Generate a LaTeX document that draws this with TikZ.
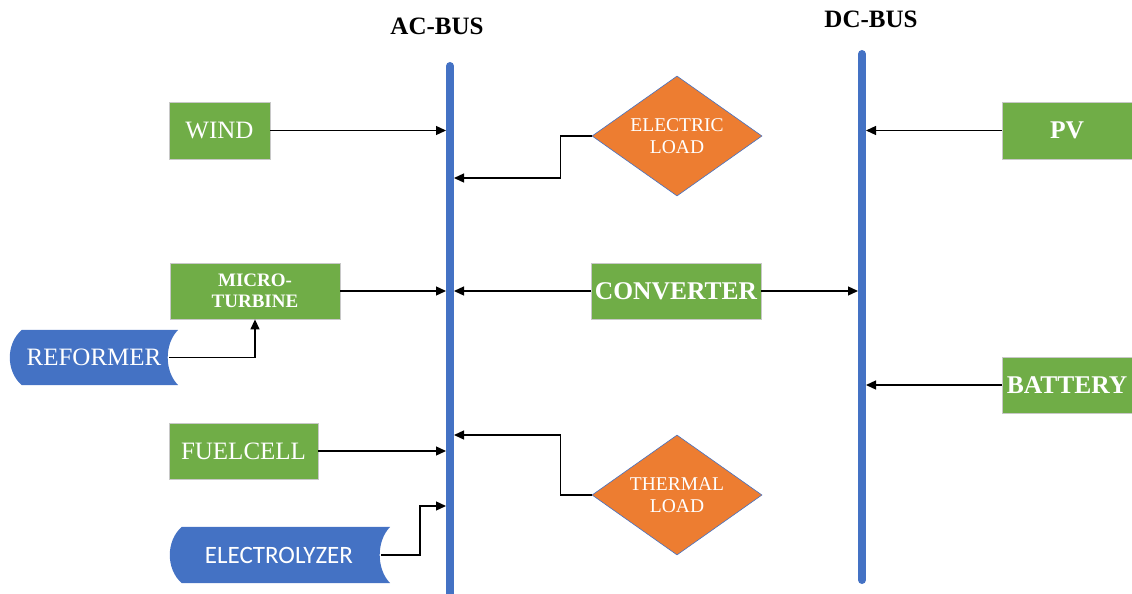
\documentclass[tikz,border=0pt]{standalone}
\usepackage{fontspec}
\setmainfont{Liberation Serif}
\newfontfamily\calib{Carlito}
\usetikzlibrary{arrows.meta,shapes.geometric}
\definecolor{mygreen}{HTML}{70AD47}
\definecolor{myblue}{HTML}{4472C4}
\definecolor{myorange}{HTML}{ED7D31}
\definecolor{myedge}{HTML}{C8C8C8}
\tikzset{
  gbox/.style={fill=mygreen, draw=myedge, line width=0.8pt, text=white, inner sep=0pt},
  dia/.style={diamond, aspect=1.42, fill=myorange, draw=myblue, line width=0.6pt, text=white, inner sep=0pt,
     minimum width=170pt, minimum height=120pt, align=center, font=\fontsize{19.5}{21.5}\selectfont},
  sdtext/.style={text=white, inner sep=0pt},
  arr/.style={line width=1.3pt, -{Triangle[length=10pt,width=9pt]}},
  bus/.style={line width=8pt, myblue, line cap=round},
  ttl/.style={font=\bfseries\fontsize{25}{28}\selectfont},
  f25/.style={font=\fontsize{25}{28}\selectfont},
  b25/.style={font=\bfseries\fontsize{25.5}{28}\selectfont},
}
\begin{document}
\begin{tikzpicture}[x=1pt,y=-1pt]
\useasboundingbox (0,0) rectangle (1132,594);
% buses
\draw[bus] (450,66) -- (450,600);
\draw[bus] (862,54) -- (862,580);
\coordinate (acL) at (446,0);
\coordinate (acR) at (454,0);
\coordinate (dcL) at (858,0);
\coordinate (dcR) at (866,0);
% titles
\node[ttl] (actitle) at (437,26) {AC-BUS};
\node[ttl] (dctitle) at (871,19) {DC-BUS};
% left column
\node[gbox, f25, minimum width=101pt, minimum height=57pt] (wind) at (219.5,130.5) {WIND};
\node[gbox, align=center, font=\bfseries\fontsize{19}{21}\selectfont, minimum width=170pt, minimum height=56pt] (mt) at (255,291) {MICRO-\\TURBINE};
\node[gbox, f25, minimum width=149pt, minimum height=56pt] (fc) at (243.5,451) {FUELCELL};
% reformer (stored data shape)
\node[sdtext, minimum width=168pt, minimum height=55pt] (ref) at (94,357.5) {};
\fill[myblue] ([xshift=12pt]ref.north west) -- (ref.north east)
   .. controls ([xshift=-14pt,yshift=-14pt]ref.north east) and ([xshift=-14pt,yshift=14pt]ref.south east) .. (ref.south east)
   -- ([xshift=12pt]ref.south west)
   .. controls ([xshift=-4pt,yshift=14pt]ref.south west) and ([xshift=-4pt,yshift=-14pt]ref.north west) .. cycle;
\node[sdtext, f25] (reft) at (ref.center) {REFORMER};
% electrolyzer
\node[sdtext, minimum width=220pt, minimum height=56pt] (elz) at (280,555) {};
\fill[myblue] ([xshift=12pt]elz.north west) -- (elz.north east)
   .. controls ([xshift=-14pt,yshift=-14pt]elz.north east) and ([xshift=-14pt,yshift=14pt]elz.south east) .. (elz.south east)
   -- ([xshift=12pt]elz.south west)
   .. controls ([xshift=-4pt,yshift=14pt]elz.south west) and ([xshift=-4pt,yshift=-14pt]elz.north west) .. cycle;
\node[sdtext, font=\calib\fontsize{25}{28}\selectfont] (elzt) at (279,555) {ELECTROLYZER};
% middle
\node[dia] (eload) at (677,136) {ELECTRIC\\LOAD};
\node[gbox, b25, minimum width=170pt, minimum height=56pt] (conv) at (676,291) {CONVERTER};
\node[dia] (tload) at (677,495) {THERMAL\\LOAD};
% right
\node[gbox, b25, minimum width=130pt, minimum height=57pt] (pv) at (1067,130.5) {PV};
\node[gbox, b25, minimum width=130pt, minimum height=56pt] (bat) at (1067,385) {BATTERY};
% connectors
\coordinate (elin) at (454,178);
\coordinate (thin) at (454,435);
\coordinate (elzin) at (446,506);
\draw[arr] (wind.east) -- (wind.east -| acL);
\draw[arr] (eload.west) -- ++(-31,0) |- (elin);
\draw[arr] (mt.east) -- (mt.east -| acL);
\draw[arr] (conv.west) -- (conv.west -| acR);
\draw[arr] (conv.east) -- (conv.east -| dcL);
\draw[arr] ([xshift=-9pt]ref.east) -| (mt.south);
\draw[arr] (fc.east) -- (fc.east -| acL);
\draw[arr] (tload.west) -- ++(-31,0) |- (thin);
\draw[arr] ([xshift=-9pt]elz.east) -- (420,555) |- (elzin);
\draw[arr] (pv.west) -- (pv.west -| dcR);
\draw[arr] (bat.west) -- (bat.west -| dcR);
\end{tikzpicture}
\end{document}
